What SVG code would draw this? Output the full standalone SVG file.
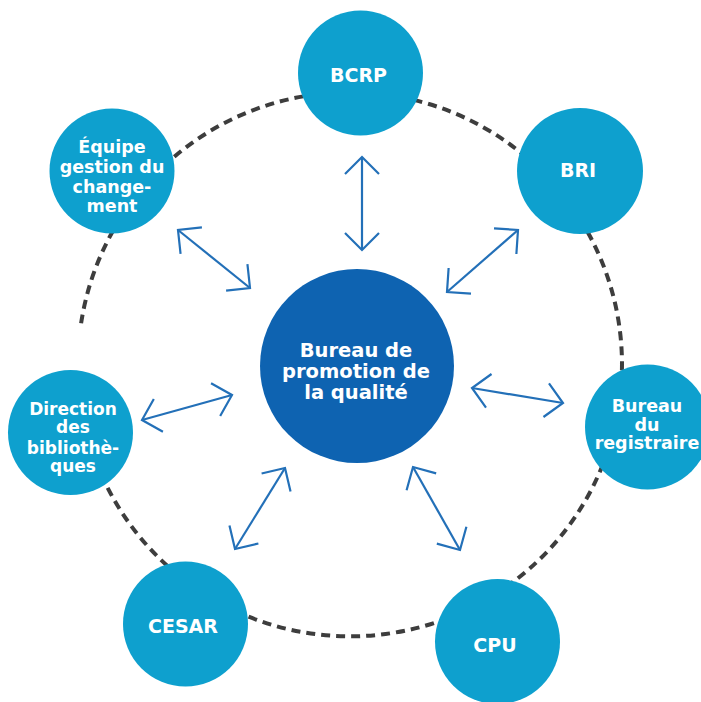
<svg xmlns="http://www.w3.org/2000/svg" width="701" height="702" viewBox="0 0 701 702">
<style>
.node{fill:#0ea0ce}
.hub{fill:#0e63b1}
.lbl{font-family:"DejaVu Sans","Liberation Sans",sans-serif;font-weight:bold;fill:#ffffff;text-anchor:middle}
.s{font-size:17.5px}
.d{font-size:17px}
.b{font-size:19px}
.c{font-size:19.5px}
.ring{fill:none;stroke:#3d3d3d;stroke-width:4;stroke-dasharray:9 6}
.arr{fill:none;stroke:#2370b8;stroke-width:2.2;marker-start:url(#ah);marker-end:url(#ah)}
</style>
<defs>
<marker id="ah" viewBox="-22 -20 24 40" markerWidth="24" markerHeight="40" refX="0" refY="0" orient="auto-start-reverse" markerUnits="userSpaceOnUse">
<path d="M-17,-17 L0,0 L-17,17" fill="none" stroke="#2370b8" stroke-width="2.2"/>
</marker>
</defs>
<rect width="701" height="702" fill="#ffffff"/>
<g id="ring">
<path class="ring" d="M81.1,323.3 A272,272 0 1 1 78.1,372.1"/>
</g>
<g id="connectors">
<line class="arr" x1="362" y1="157" x2="362" y2="250"/>
<line class="arr" x1="178" y1="230" x2="250" y2="288"/>
<line class="arr" x1="518" y1="230" x2="447" y2="292"/>
<line class="arr" x1="142" y1="420" x2="232" y2="395"/>
<line class="arr" x1="285" y1="468" x2="235" y2="549"/>
<line class="arr" x1="413" y1="467" x2="460" y2="550"/>
<line class="arr" x1="472" y1="388" x2="563" y2="403"/>
</g>
<g id="hub">
<circle class="hub" cx="357" cy="366" r="97"/>
<text class="lbl c" x="356" y="357">Bureau de</text>
<text class="lbl c" x="356" y="378">promotion de</text>
<text class="lbl c" x="356" y="399">la qualité</text>
</g>
<g id="bcrp">
<circle class="node" cx="360.5" cy="73" r="62.5"/>
<text class="lbl b" x="358.5" y="82">BCRP</text>
</g>
<g id="bri">
<circle class="node" cx="580" cy="171" r="63"/>
<text class="lbl b" x="578" y="177">BRI</text>
</g>
<g id="registraire">
<circle class="node" cx="647.5" cy="427" r="62.5"/>
<text class="lbl s" x="647" y="412">Bureau</text>
<text class="lbl s" x="647" y="430.5">du</text>
<text class="lbl s" x="647" y="449">registraire</text>
</g>
<g id="cpu">
<circle class="node" cx="497.5" cy="641.5" r="62.5"/>
<text class="lbl b" x="495" y="652">CPU</text>
</g>
<g id="cesar">
<circle class="node" cx="185.5" cy="624" r="62.5"/>
<text class="lbl b" x="183" y="633">CESAR</text>
</g>
<g id="direction">
<circle class="node" cx="70.5" cy="432.5" r="62.5"/>
<text class="lbl d" x="73" y="415">Direction</text>
<text class="lbl d" x="73" y="433">des</text>
<text class="lbl d" x="73" y="453.5">bibliothè-</text>
<text class="lbl d" x="73" y="472">ques</text>
</g>
<g id="equipe">
<circle class="node" cx="112" cy="171" r="62.5"/>
<text class="lbl s" x="112" y="153">Équipe</text>
<text class="lbl s" x="112" y="173">gestion du</text>
<text class="lbl s" x="112" y="193">change-</text>
<text class="lbl s" x="112" y="212">ment</text>
</g>
</svg>
